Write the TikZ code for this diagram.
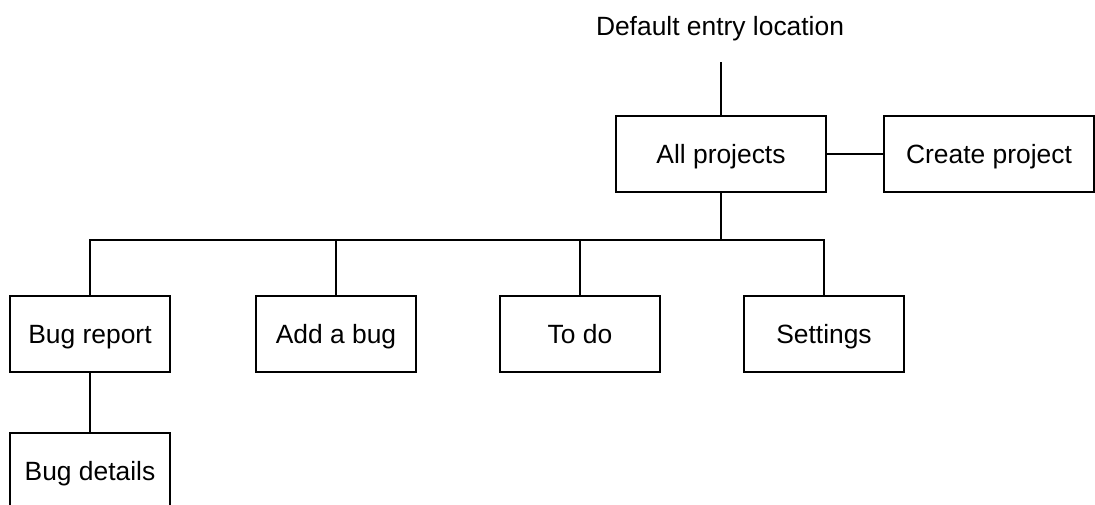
\documentclass[tikz,border=0pt]{standalone}
\usepackage{fontspec}
\setmainfont{Liberation Sans}
\begin{document}
\begin{tikzpicture}[x=1pt,y=-1pt,
  every node/.style={font=\fontsize{26.4}{30}\selectfont, inner sep=0pt},
  page/.style={draw, line width=2pt, minimum width=160pt, minimum height=76pt,
               text height=19pt, text depth=0pt},
  widepage/.style={page, minimum width=210pt},
  link/.style={line width=2pt}]
  \useasboundingbox (0,0) rectangle (1095,504);
  \clip (0,0) rectangle (1095,504);
  \fill[white] (0,0) rectangle (1095,504);

  % entry point above the root
  \node[anchor=base] (entry) at (720,35) {Default entry location};
  \coordinate (entryend) at (721,62);

  % root and its side page
  \node[widepage] (allp) at (721,154) {All projects};
  \node[widepage] (create) at (989,154) {Create project};

  % second level
  \node[page] (bugrep) at (90,334) {Bug report};
  \node[page] (addbug) at (336,334) {Add a bug};
  \node[page] (todo) at (580,334) {To do};
  \node[page] (settings) at (824,334) {Settings};

  % third level
  \node[page] (bugdet) at (90,471) {Bug details};

  % connectors
  \coordinate (bus) at (0,240);
  \draw[link] (entryend) -- (allp.north);
  \draw[link] (allp.east) -- (create.west);
  \draw[link] (allp.south) -- (allp.south |- bus);
  \draw[link] (bugrep.north) -- (bugrep.north |- bus) -- (settings.north |- bus) -- (settings.north);
  \draw[link] (addbug.north) -- (addbug.north |- bus);
  \draw[link] (todo.north) -- (todo.north |- bus);
  \draw[link] (bugrep.south) -- (bugdet.north);
\end{tikzpicture}
\end{document}
